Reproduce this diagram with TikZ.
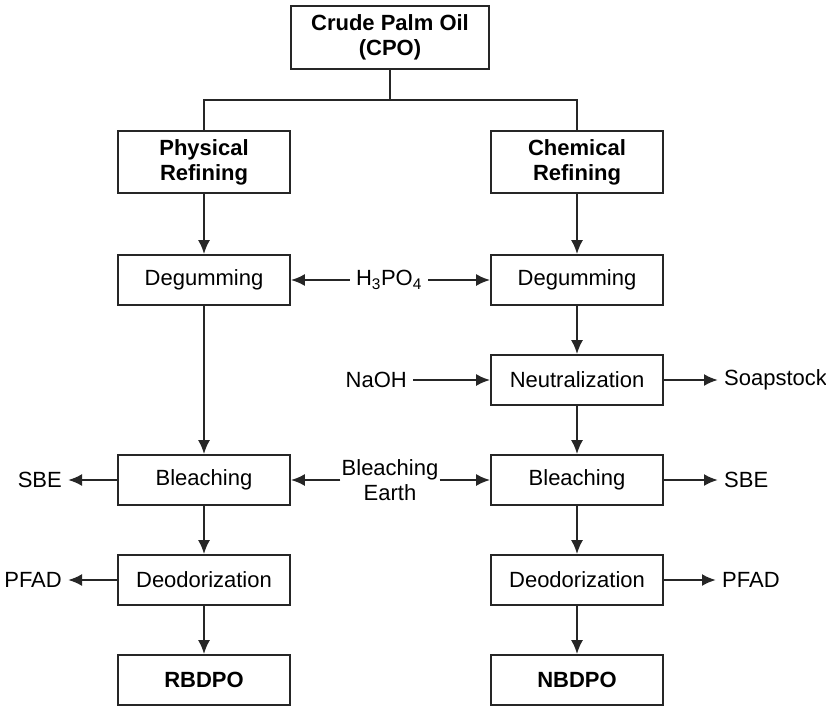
\documentclass[tikz,border=0pt]{standalone}
\usepackage{fontspec}
\setmainfont{Liberation Sans}
\usetikzlibrary{arrows.meta}

\tikzset{
  proc/.style={draw=black!85, line width=1.6pt, minimum width=172pt, minimum height=50pt,
    inner sep=0pt, align=center},
  head/.style={proc, minimum height=62pt, font=\bfseries\fontsize{22}{25}\selectfont},
  lbl/.style={inner sep=6pt, align=center},
  arr/.style={draw=black!85, line width=2.3pt, -{Latex[length=14pt,width=12pt]}},
  tree/.style={draw=black!85, line width=2.3pt},
}

\begin{document}
\begin{tikzpicture}[x=1pt, y=-1pt, font=\fontsize{22}{25}\selectfont]
    \useasboundingbox (0,0) rectangle (826,707);

    % Top and the two routes
    \node[head, minimum width=198pt, minimum height=63pt] (cpo) at (390,37.5) {Crude Palm Oil\\(CPO)};
    \node[head] (phys) at (204,162) {Physical\\Refining};
    \node[head] (chem) at (577,162) {Chemical\\Refining};
    \coordinate (split) at (390,100);

    % Process steps
    \node[proc] (degL) at (204,280) {Degumming};
    \node[proc] (degR) at (577,280) {Degumming};
    \node[proc] (neut) at (577,380) {Neutralization};
    \node[proc] (bleL) at (204,480) {Bleaching};
    \node[proc] (bleR) at (577,480) {Bleaching};
    \node[proc] (deoL) at (204,580) {Deodorization};
    \node[proc] (deoR) at (577,580) {Deodorization};
    \node[head, minimum height=50pt] (rbd) at (204,680) {RBDPO};
    \node[head, minimum height=50pt] (nbd) at (577,680) {NBDPO};

    % Inputs and by-products
    \node[lbl] (h3po4) at (389,280) {H\textsubscript{3}PO\textsubscript{4}};
    \node[lbl, anchor=east] (naoh) at (413,380) {NaOH};
    \node[lbl, anchor=west] (soap) at (718,380) {Soapstock};
    \node[lbl, inner sep=1pt] (earth) at (390,480) {Bleaching\\Earth};
    \node[lbl, anchor=east] (sbeL) at (68,480) {SBE};
    \node[lbl, anchor=west] (sbeR) at (718,480) {SBE};
    \node[lbl, anchor=east] (pfadL) at (68,580) {PFAD};
    \node[lbl, anchor=west] (pfadR) at (716,580) {PFAD};

    % Branching from CPO
    \draw[tree] (cpo) -- (split) -| (phys);
    \draw[tree] (split) -| (chem);

    % Main flow
    \draw[arr] (phys) -- (degL);
    \draw[arr] (degL) -- (bleL);
    \draw[arr] (bleL) -- (deoL);
    \draw[arr] (deoL) -- (rbd);
    \draw[arr] (chem) -- (degR);
    \draw[arr] (degR) -- (neut);
    \draw[arr] (neut) -- (bleR);
    \draw[arr] (bleR) -- (deoR);
    \draw[arr] (deoR) -- (nbd);

    % Side streams
    \draw[arr] (h3po4) -- (degL);
    \draw[arr] (h3po4) -- (degR);
    \draw[arr] (naoh) -- (neut);
    \draw[arr] (neut) -- (soap);
    \draw[arr] (earth) -- (bleL);
    \draw[arr] (earth) -- (bleR);
    \draw[arr] (bleL) -- (sbeL);
    \draw[arr] (bleR) -- (sbeR);
    \draw[arr] (deoL) -- (pfadL);
    \draw[arr] (deoR) -- (pfadR);
\end{tikzpicture}
\end{document}
